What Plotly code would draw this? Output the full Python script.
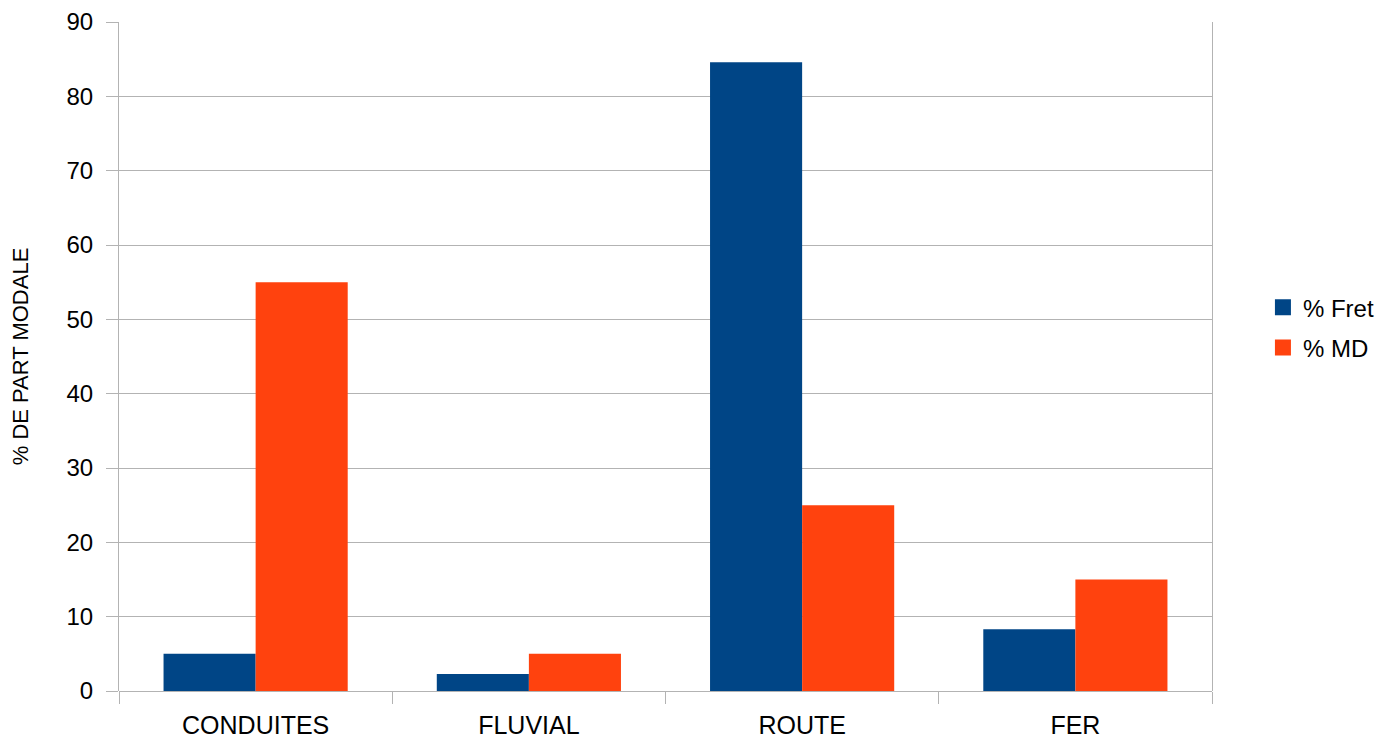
import plotly.graph_objects as go

# Modal share of freight transport by mode
modes = ["CONDUITES", "FLUVIAL", "ROUTE", "FER"]
fret = [5.0, 2.3, 84.6, 8.3]
md = [55.0, 5.0, 25.0, 15.0]

series_names = ["% Fret", "% MD"]
series_colors = ["#004586", "#ff420e"]

grid = "#b3b3b3"
font_family = "Liberation Sans, Arial, sans-serif"

fig = go.Figure()
for name, vals, color in zip(series_names, [fret, md], series_colors):
    fig.add_trace(go.Bar(name=name, x=modes, y=vals, legendgroup=name, showlegend=False,
                         marker=dict(color=color, line=dict(width=0))))
    # legend entry with a larger square swatch
    fig.add_trace(go.Scatter(name=name, x=[None], y=[None], mode="markers", legendgroup=name,
                             marker=dict(symbol="square", size=16, color=color), showlegend=True))

fig.update_layout(
    width=1384, height=739,
    margin=dict(l=119, r=172, t=22, b=48, autoexpand=False),
    paper_bgcolor="white", plot_bgcolor="white",
    barmode="group", bargap=0.326, bargroupgap=0,
    font=dict(family=font_family, size=24, color="black"),
    showlegend=True,
    legend=dict(x=1.0466, xanchor="left", y=0.543, yanchor="middle",
                font=dict(size=24), bgcolor="rgba(0,0,0,0)", borderwidth=0,
                tracegroupgap=6, itemclick=False),
)
fig.update_xaxes(
    showgrid=False, showline=False, zeroline=False, automargin=False,
    ticks="outside", tickson="boundaries", ticklen=12, tickcolor=grid, tickwidth=1,
    ticklabelstandoff=17,
    tickfont=dict(size=25),
)
fig.update_yaxes(
    range=[0, 90], dtick=10, tick0=0, automargin=False,
    showgrid=True, gridcolor=grid, gridwidth=1,
    showline=True, linecolor=grid, linewidth=1, mirror=True,
    zeroline=True, zerolinecolor=grid, zerolinewidth=1,
    ticks="outside", ticklen=12, tickcolor=grid, tickwidth=1,
    ticklabelstandoff=8,
    title=dict(text="% DE PART MODALE", font=dict(size=22), standoff=31),
)

fig.write_html("out.html")
